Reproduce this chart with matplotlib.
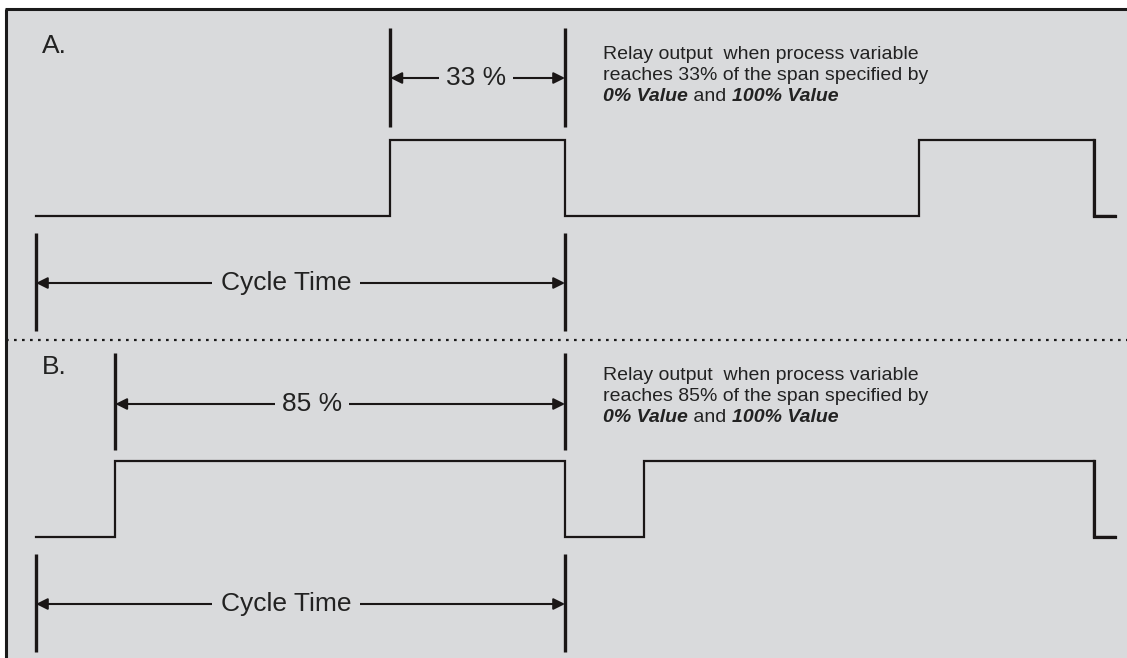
import matplotlib
matplotlib.use('Agg')
import matplotlib.pyplot as plt
import numpy as np

# data
panel_labels = ['A.', 'B.']
duty_pct = [33, 85]
n_cycles = 2
duty_text = ['33 %', '85 %']
desc_lines = ['Relay output  when process variable',
              'reaches {}% of the span specified by']
desc_last = ['0% Value', ' and ', '100% Value']
cycle_label = 'Cycle Time'

plt.rcParams['font.family'] = ['Liberation Sans', 'DejaVu Sans']
W, H = 1127, 658
bg = '#d9dadc'
x0px, cyc_px = 36, 529.0  # cycle start and cycle length in pixels

fig = plt.figure(figsize=(W/100, H/100), dpi=100)
ax = fig.add_axes([0, 0, 1, 1])
ax.set_xlim(-x0px/cyc_px, (W - x0px)/cyc_px)
ax.set_ylim(H, 0)
ax.axis('off')

def ux(px):
    return (px - x0px)/cyc_px

# background panel and border (top + left only)
ax.add_patch(plt.Rectangle((ux(6), 9), ux(W + 5) - ux(6), H, color=bg, zorder=0))
ax.plot([ux(5), ux(W + 5)], [9, 9], color='#1a1a1a', lw=2.2, solid_capstyle='butt')
ax.plot([ux(6), ux(6)], [9, H], color='#1a1a1a', lw=2.2, solid_capstyle='butt')
ax.plot([ux(6), ux(W)], [340, 340], color='#1a1a1a', lw=1.6,
        linestyle=(0, (1.2, 2.4)))

col = '#1a1616'
tcol = '#222222'
offsets = [0, 321]
pct_text_x = [476, 312]

for i, lab in enumerate(panel_labels):
    dy = offsets[i]
    duty = duty_pct[i]/100.0
    ax.text(ux(42), 46 + dy, lab, fontsize=19, va='center', ha='left', color=tcol)

    # waveform
    xs, ys = [0.0], [216 + dy]
    for c in range(n_cycles):
        on = c + 1 - duty
        xs += [on, on, c + 1, c + 1]
        ys += [216 + dy, 140 + dy, 140 + dy, 216 + dy]
    xs.append(n_cycles + ux(1115) - ux(1094))
    ys.append(216 + dy)
    ax.plot(xs, ys, color=col, lw=1.6, solid_joinstyle='miter')
    # thicker edges at end of trace
    ax.plot([n_cycles, n_cycles, xs[-1]], [140 + dy, 216 + dy, 216 + dy],
            color=col, lw=2.3, solid_joinstyle='miter')

    # duty markers
    on = 1 - duty
    top, bot, ay = 28 + dy + (4 if i else 0), 127 + dy + (2 if i else 0), 78 + dy + (5 if i else 0)
    for xm in [on, 1.0]:
        ax.plot([xm, xm], [top, bot], color=col, lw=2.4, solid_capstyle='butt')
    ax.annotate('', xy=(on, ay), xytext=(1.0, ay),
                arrowprops=dict(arrowstyle='<|-|>', color=col, lw=1.5,
                                shrinkA=0, shrinkB=0, mutation_scale=17))
    ax.text(ux(pct_text_x[i]), ay, duty_text[i], fontsize=19, ha='center',
            va='center', color=tcol, zorder=5,
            bbox=dict(boxstyle='square,pad=0.25', fc=bg, ec='none'))

    # cycle time markers
    for xm in [0.0, 1.0]:
        ax.plot([xm, xm], [233 + dy, 331 + dy], color=col, lw=2.4, solid_capstyle='butt')
    ax.annotate('', xy=(0.0, 283 + dy), xytext=(1.0, 283 + dy),
                arrowprops=dict(arrowstyle='<|-|>', color=col, lw=1.5,
                                shrinkA=0, shrinkB=0, mutation_scale=17))
    ax.text(ux(286), 283 + dy, cycle_label, fontsize=19, ha='center', va='center',
            color=tcol, zorder=5,
            bbox=dict(boxstyle='square,pad=0.35', fc=bg, ec='none'))

    # description
    tx = ux(603)
    ax.text(tx, 59 + dy, desc_lines[0], fontsize=14, va='baseline', color=tcol)
    ax.text(tx, 80 + dy, desc_lines[1].format(duty_pct[i]), fontsize=14,
            va='baseline', color=tcol)
    prev = ax.text(tx, 101 + dy, desc_last[0], fontsize=14, va='baseline',
                   fontweight='bold', fontstyle='italic', color=tcol)
    for j, part in enumerate(desc_last[1:]):
        bold = (j % 2 == 1)
        prev = ax.annotate(part, xy=(1, 0), xycoords=prev, va='bottom', ha='left',
                           fontsize=14, color=tcol,
                           fontweight='bold' if bold else 'normal',
                           fontstyle='italic' if bold else 'normal')

fig.savefig('out.png', dpi=100, facecolor='white')
